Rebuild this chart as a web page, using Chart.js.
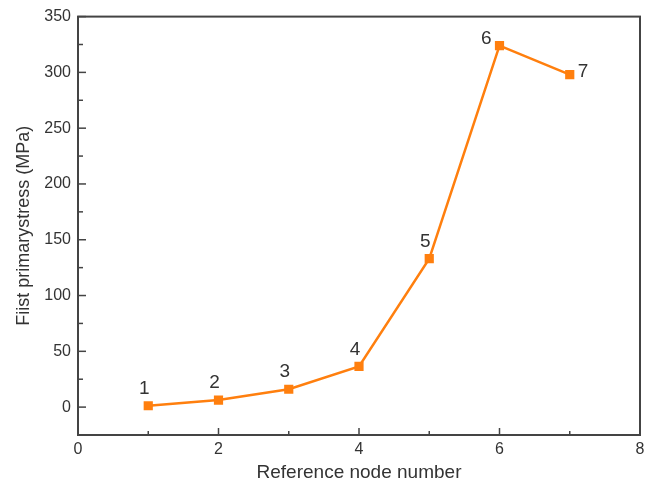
<!DOCTYPE html>
<html>
<head>
<meta charset="utf-8">
<script src="https://cdn.jsdelivr.net/npm/chart.js@4.4.1/dist/chart.umd.min.js"></script>
<style>
  html, body { margin: 0; padding: 0; background: #fff; }
  #wrap { width: 654px; height: 490px; }
</style>
</head>
<body>
<div id="wrap"><canvas id="stressChart"></canvas></div>
<script>
const nodes   = [1, 2, 3, 4, 5, 6, 7];
const stress  = [1.2, 6.3, 16, 36.5, 133, 324, 298];
const xTicks  = [0, 2, 4, 6, 8];
const yTicks  = [0, 50, 100, 150, 200, 250, 300, 350];
const xMinor  = [1, 3, 5, 7];
const yMinor  = [-25, 25, 75, 125, 175, 225, 275, 325];

const AXIS  = '#444';
const TEXT  = '#333';
const LINE  = '#ff7f0e';
const FONT  = 'Liberation Sans, Arial, sans-serif';

// frame + inward ticks
const framePlugin = {
  id: 'frame',
  afterDraw(chart) {
    const { ctx, chartArea: a, scales: { x, y } } = chart;
    ctx.save();
    ctx.strokeStyle = AXIS;
    ctx.lineWidth = 2;
    ctx.strokeRect(a.left, a.top, a.right - a.left, a.bottom - a.top);
    ctx.lineWidth = 1.5;
    const tick = (px, len, vertical) => {
      ctx.beginPath();
      if (vertical) { ctx.moveTo(px, a.bottom); ctx.lineTo(px, a.bottom - len); }
      else          { ctx.moveTo(a.left, px);   ctx.lineTo(a.left + len, px); }
      ctx.stroke();
    };
    xTicks.forEach(v => tick(x.getPixelForValue(v), 7, true));
    xMinor.forEach(v => tick(x.getPixelForValue(v), 4, true));
    yTicks.forEach(v => tick(y.getPixelForValue(v), 8, false));
    yMinor.forEach(v => tick(y.getPixelForValue(v), 5, false));
    ctx.restore();
  }
};

// node numbers next to each point
const labelPlugin = {
  id: 'nodeLabels',
  afterDatasetsDraw(chart) {
    const { ctx } = chart;
    const pts = chart.getDatasetMeta(0).data;
    ctx.save();
    ctx.font = '19px ' + FONT;
    ctx.fillStyle = TEXT;
    ctx.textBaseline = 'middle';
    pts.forEach((p, i) => {
      const n = String(nodes[i]);
      if (i === 5) {
        ctx.textAlign = 'right';
        ctx.fillText(n, p.x - 8, p.y - 7);
      } else if (i === 6) {
        ctx.textAlign = 'left';
        ctx.fillText(n, p.x + 8, p.y - 3);
      } else {
        ctx.textAlign = 'center';
        ctx.fillText(n, p.x - 4, p.y - 17);
      }
    });
    ctx.restore();
  }
};

new Chart(document.getElementById('stressChart'), {
  type: 'line',
  data: {
    datasets: [{
      data: nodes.map((n, i) => ({ x: n, y: stress[i] })),
      borderColor: LINE,
      backgroundColor: LINE,
      borderWidth: 2.5,
      pointStyle: 'rect',
      pointRadius: 6.5,
      pointBorderWidth: 0,
      tension: 0
    }]
  },
  options: {
    responsive: true,
    maintainAspectRatio: false,
    animation: false,
    layout: { padding: { top: 15, right: 14, left: 0, bottom: 0 } },
    plugins: { legend: { display: false }, tooltip: { enabled: false } },
    scales: {
      x: {
        type: 'linear',
        min: 0, max: 8,
        afterBuildTicks: s => { s.ticks = xTicks.map(v => ({ value: v })); },
        afterFit: s => { s.height = 55; },
        grid: { display: false, drawTicks: false },
        border: { display: false },
        ticks: { color: TEXT, font: { family: FONT, size: 16 }, padding: 5, maxRotation: 0 },
        title: {
          display: true,
          text: 'Reference node number',
          color: TEXT,
          font: { family: FONT, size: 19 },
          padding: { top: 2, bottom: 6 }
        }
      },
      y: {
        type: 'linear',
        min: -25, max: 350,
        afterBuildTicks: s => { s.ticks = yTicks.map(v => ({ value: v })); },
        afterFit: s => { s.width = 78; },
        grid: { display: false, drawTicks: false },
        border: { display: false },
        ticks: { color: TEXT, font: { family: FONT, size: 16 }, padding: 7 },
        title: {
          display: true,
          text: 'Fiist primarystress (MPa)',
          color: TEXT,
          font: { family: FONT, size: 18 },
          padding: { top: 13, bottom: 0 }
        }
      }
    }
  },
  plugins: [framePlugin, labelPlugin]
});
</script>
</body>
</html>
